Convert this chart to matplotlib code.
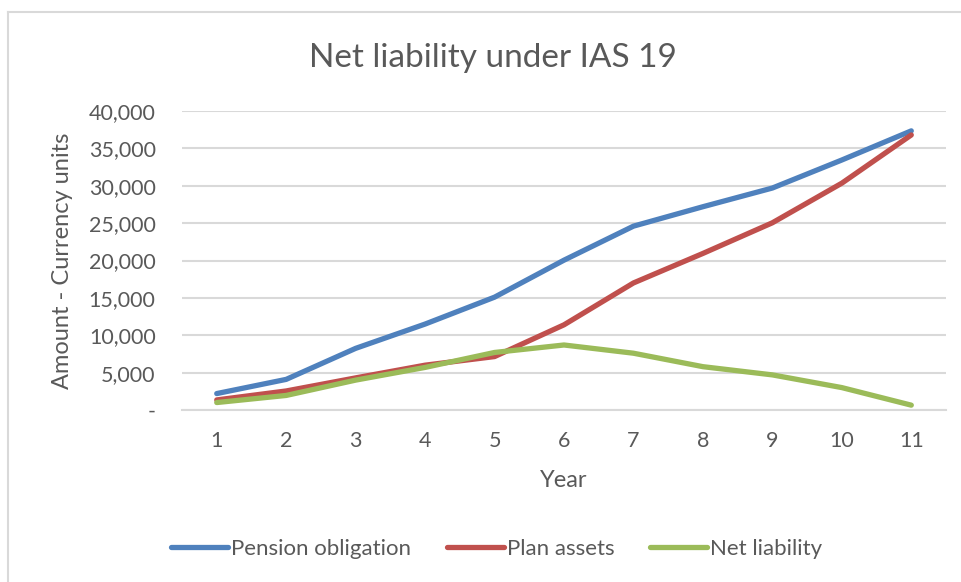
import numpy as np
import matplotlib.pyplot as plt
from matplotlib.lines import Line2D
from matplotlib.ticker import FuncFormatter

plt.rcParams['font.family'] = ['Lato', 'DejaVu Sans']

years = list(range(1, 12))
pension_obligation = [2200, 4100, 8250, 11500, 15100, 20050, 24600, 27200, 29700, 33450, 37350]
plan_assets = [1350, 2550, 4300, 6000, 7150, 11400, 17000, 20950, 25050, 30350, 36800]
net_liability = [1000, 1950, 4000, 5700, 7700, 8700, 7600, 5800, 4700, 3000, 650]

text_col = '#595959'
grid_col = '#D9D9D9'

fig = plt.figure(figsize=(9.61, 5.82), dpi=100)
ax = fig.add_axes([0.1894, 0.2955, 0.795, 0.5137])

ax.plot(years, pension_obligation, color='#4F81BD', lw=3.8, solid_capstyle='round', label='Pension obligation')
ax.plot(years, plan_assets, color='#C0504D', lw=3.8, solid_capstyle='round', label='Plan assets')
ax.plot(years, net_liability, color='#9BBB59', lw=3.8, solid_capstyle='round', label='Net liability')

ax.set_xlim(0.5, 11.5)
ax.set_ylim(0, 40000)
ax.set_xticks(years)
ax.set_yticks(np.arange(0, 40001, 5000))
ax.yaxis.set_major_formatter(FuncFormatter(lambda v, p: '-' if v == 0 else f'{int(v):,}'))
ax.grid(axis='y', color=grid_col, lw=1.5)
ax.set_axisbelow(True)
for s in ['top', 'right', 'left']:
    ax.spines[s].set_visible(False)
ax.spines['bottom'].set_color(grid_col)
ax.spines['bottom'].set_linewidth(1.5)
ax.tick_params(axis='both', length=0, labelsize=15.5, labelcolor=text_col)
ax.tick_params(axis='y', pad=19)
ax.tick_params(axis='x', pad=15)

ax.set_xlabel('Year', fontsize=17, color=text_col, labelpad=14)
ax.set_ylabel('Amount - Currency units', fontsize=17, color=text_col, labelpad=11)

fig.text(0.5125, 0.9, 'Net liability under IAS 19', ha='center', va='center', fontsize=24, color=text_col)

handles = [Line2D([], [], color=c, lw=3.8, solid_capstyle='round') for c in ['#4F81BD', '#C0504D', '#9BBB59']]
fig.legend(handles, ['Pension obligation', 'Plan assets', 'Net liability'], loc='center',
           bbox_to_anchor=(0.517, 0.0567), ncol=3, frameon=False, fontsize=16,
           labelcolor=text_col, handlelength=2.55, handletextpad=0.15, columnspacing=1.6)

# chart border (cropped at right and bottom)
fig.add_artist(Line2D([8 / 961, 1], [1 - 12 / 582, 1 - 12 / 582], color=grid_col, lw=1.5))
fig.add_artist(Line2D([8 / 961, 8 / 961], [0, 1 - 12 / 582], color=grid_col, lw=1.5))

fig.savefig('out.png', dpi=100)
